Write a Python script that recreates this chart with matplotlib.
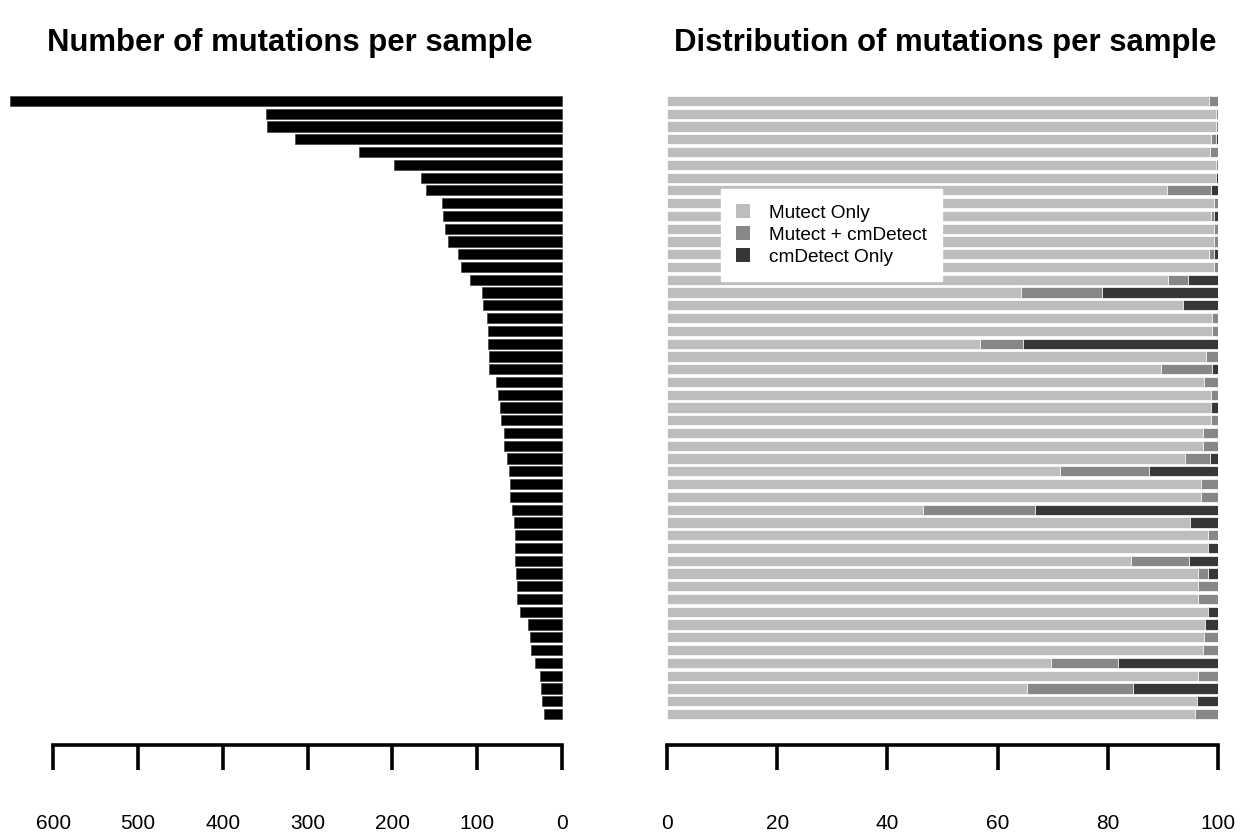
import matplotlib
matplotlib.use("Agg")
import matplotlib.pyplot as plt
from matplotlib.patches import Patch
import numpy as np

plt.rcParams['font.family'] = ['Liberation Sans', 'DejaVu Sans']

# total mutations per sample (top to bottom)
total_mutations = [651, 349, 348, 315, 239, 198, 166, 160, 141, 140,
                   138, 135, 123, 119, 109, 94, 93, 89, 87, 87,
                   86.5, 86.5, 78, 75, 73, 72, 69, 68, 65, 62,
                   61, 61, 59, 57, 56, 56, 56, 54, 53, 53,
                   50, 40, 38, 36, 32, 26, 25, 24, 21.7]

# percent of each sample's mutations (top to bottom)
mutect_only = [98.3, 99.6, 99.6, 98.8, 98.5, 99.6, 99.6, 90.8, 99.3, 98.7,
               99.3, 99.3, 98.4, 99.2, 91.0, 64.2, 93.7, 99.0, 99.0, 56.8,
               97.8, 89.7, 97.5, 98.8, 98.7, 98.7, 97.3, 97.2, 94.0, 71.4,
               96.9, 96.9, 46.5, 94.9, 98.2, 98.2, 84.3, 96.4, 96.4, 96.4,
               98.1, 97.7, 97.5, 97.3, 69.7, 96.4, 65.4, 96.1, 95.8]
both = [1.7, 0.4, 0.4, 0.8, 1.5, 0.4, 0.0, 8.0, 0.7, 0.6,
        0.7, 0.7, 0.8, 0.8, 3.6, 14.8, 0.0, 1.0, 1.0, 7.9,
        2.2, 9.3, 2.5, 1.2, 0.0, 1.3, 2.7, 2.8, 4.5, 16.0,
        3.1, 3.1, 20.2, 0.0, 1.8, 0.0, 10.5, 1.8, 3.6, 3.6,
        0.0, 0.0, 2.5, 2.7, 12.2, 3.6, 19.2, 0.0, 4.2]
cmdetect_only = [0.0, 0.0, 0.0, 0.4, 0.0, 0.0, 0.4, 1.2, 0.0, 0.7,
                 0.0, 0.0, 0.8, 0.0, 5.4, 21.0, 6.3, 0.0, 0.0, 35.3,
                 0.0, 1.0, 0.0, 0.0, 1.3, 0.0, 0.0, 0.0, 1.5, 12.6,
                 0.0, 0.0, 33.3, 5.1, 0.0, 1.8, 5.2, 1.8, 0.0, 0.0,
                 1.9, 2.3, 0.0, 0.0, 18.1, 0.0, 15.4, 3.9, 0.0]

labels = ['Mutect Only', 'Mutect + cmDetect', 'cmDetect Only']
colors = ['#bdbdbd', '#878787', '#373737']

W, H = 1240, 832
fig = plt.figure(figsize=(W / 100, H / 100), dpi=100)

rows = np.arange(len(total_mutations))
ax_bottom = 1 - 745 / H
ax_height = (745 - 90) / H
ylim = ((745 - 101) / 12.77, -(101 - 90) / 12.77)

def style_axis(ax, lo, hi):
    for s in ['top', 'left', 'right']:
        ax.spines[s].set_visible(False)
    ax.spines['bottom'].set_bounds(lo, hi)
    ax.spines['bottom'].set_linewidth(2.6)
    ax.spines['bottom'].set_capstyle('projecting')
    ax.tick_params(axis='x', length=18, width=2.6, pad=32, labelsize=15)
    ax.set_yticks([])
    ax.set_ylim(ylim)

# left panel: counts, x axis reversed
ax1 = fig.add_axes([0, ax_bottom, 590 / W, ax_height])
ax1.barh(rows, total_mutations, height=0.8, color='black',
         edgecolor='#444444', linewidth=0.5)
ax1.set_xlim(562 / 0.8478, -28 / 0.8478)
ax1.set_xticks([0, 100, 200, 300, 400, 500, 600])
style_axis(ax1, 0, 600)

# right panel: stacked percentages
ax2 = fig.add_axes([667 / W, ax_bottom, (1218 - 667) / W, ax_height])
left = np.zeros(len(rows))
for vals, lab, col in zip([mutect_only, both, cmdetect_only], labels, colors):
    ax2.barh(rows, vals, left=left, height=0.8, color=col,
             edgecolor='white', linewidth=0.5, label=lab)
    left = left + np.array(vals)
ax2.set_xlim(0, 100)
ax2.set_xticks([0, 20, 40, 60, 80, 100])
style_axis(ax2, 0, 100)

handles = [Patch(facecolor=c, edgecolor='none') for c in colors]
ax2.legend(handles, labels, loc='upper left',
           bbox_to_anchor=(721 / W, 1 - 189 / H), bbox_transform=fig.transFigure,
           borderaxespad=0, fontsize=13.7, frameon=True, fancybox=False,
           framealpha=1, edgecolor='white', handlelength=0.7, handleheight=0.7,
           handletextpad=1.0, labelspacing=0.25, borderpad=0.8)

fig.text(290 / W, 1 - 43 / H, 'Number of mutations per sample',
         ha='center', va='center', fontsize=22.4, fontweight='bold')
fig.text(945 / W, 1 - 43 / H, 'Distribution of mutations per sample',
         ha='center', va='center', fontsize=22.4, fontweight='bold')

fig.savefig('out.png', dpi=100)
